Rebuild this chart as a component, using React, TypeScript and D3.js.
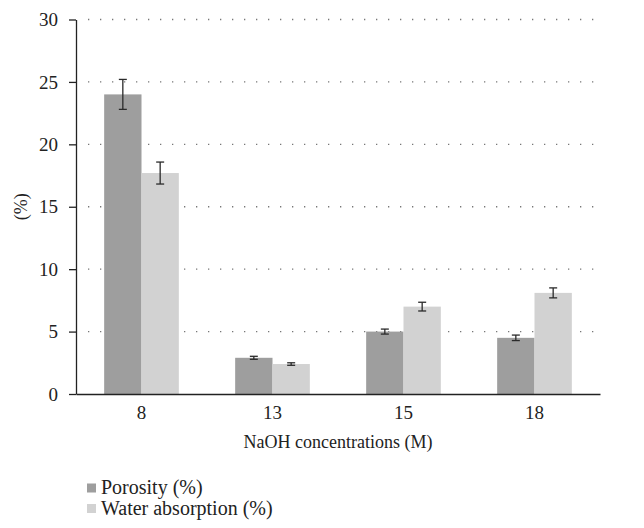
import React, { useRef, useEffect } from 'react';
import * as d3 from 'd3';

const categories = ['8', '13', '15', '18'];
const seriesNames = ['Porosity (%)', 'Water absorption (%)'];
const porosity = [24.0, 2.9, 5.0, 4.5];
const porosityErr = [1.2, 0.12, 0.2, 0.22];
const water = [17.7, 2.4, 7.0, 8.1];
const waterErr = [0.88, 0.1, 0.35, 0.4];
const yTicks = [0, 5, 10, 15, 20, 25, 30];
const colors = ['#9e9e9e', '#d2d2d2'];

export default function App() {
  const ref = useRef<SVGSVGElement>(null);

  useEffect(() => {
    const svg = d3.select(ref.current);
    svg.selectAll('*').remove();

    const width = 644;
    const marginLeft = 76;
    const marginRight = 44;
    const marginTop = 19.5;
    const axisY = 394;
    const font = 'Liberation Serif, Times New Roman, serif';

    const x = d3.scaleBand<string>()
      .domain(categories)
      .range([marginLeft, width - marginRight])
      .paddingInner(0.43)
      .paddingOuter(0.215);

    const xSub = d3.scaleBand<number>()
      .domain([0, 1])
      .range([0, x.bandwidth()]);

    const y = d3.scaleLinear().domain([0, 30]).range([axisY, marginTop]);

    // dotted gridlines
    svg.append('g')
      .selectAll('line')
      .data(yTicks.filter(d => d > 0))
      .join('line')
      .attr('x1', marginLeft + 12)
      .attr('x2', width - marginRight)
      .attr('y1', d => y(d))
      .attr('y2', d => y(d))
      .attr('stroke', '#777')
      .attr('stroke-width', 1.3)
      .attr('stroke-dasharray', '1.3 10.7');

    const series = [
      { vals: porosity, errs: porosityErr },
      { vals: water, errs: waterErr },
    ];

    series.forEach((s, si) => {
      svg.append('g')
        .selectAll('rect')
        .data(categories)
        .join('rect')
        .attr('x', (c) => (x(c) as number) + (xSub(si) as number))
        .attr('width', xSub.bandwidth())
        .attr('y', (_, i) => y(s.vals[i]))
        .attr('height', (_, i) => axisY - y(s.vals[i]))
        .attr('fill', colors[si]);

      // error bars
      const eb = svg.append('g')
        .attr('stroke', '#2a2a2a')
        .attr('stroke-width', 1.3);
      categories.forEach((c, i) => {
        const cx = (x(c) as number) + (xSub(si) as number) + xSub.bandwidth() / 2;
        const top = y(s.vals[i] + s.errs[i]);
        const bot = y(s.vals[i] - s.errs[i]);
        eb.append('line').attr('x1', cx).attr('x2', cx).attr('y1', top).attr('y2', bot);
        eb.append('line').attr('x1', cx - 4).attr('x2', cx + 4).attr('y1', top).attr('y2', top);
        eb.append('line').attr('x1', cx - 4).attr('x2', cx + 4).attr('y1', bot).attr('y2', bot);
      });
    });

    // y axis
    const yAxis = svg.append('g')
      .attr('transform', `translate(${marginLeft},0)`)
      .call(d3.axisLeft(y).tickValues(yTicks).tickSize(7).tickPadding(11).tickSizeOuter(0));
    yAxis.attr('font-family', null);
    yAxis.select('.domain').attr('stroke', '#222').attr('stroke-width', 1.3);
    yAxis.selectAll('.tick line').attr('stroke', '#222').attr('stroke-width', 1.3);
    yAxis.selectAll('.tick text')
      .style('font-family', font)
      .style('font-size', '19px')
      .attr('fill', '#222');

    // x axis
    const xAxis = svg.append('g')
      .attr('transform', `translate(0,${axisY})`)
      .call(d3.axisBottom(x).tickSize(0).tickPadding(12).tickSizeOuter(0));
    xAxis.attr('font-family', null);
    xAxis.select('.domain').attr('stroke', '#222').attr('stroke-width', 1.3);
    xAxis.selectAll('.tick text')
      .style('font-family', font)
      .style('font-size', '19px')
      .attr('fill', '#222');

    // axis titles
    svg.append('text')
      .attr('transform', `translate(27,${(axisY + marginTop) / 2}) rotate(-90)`)
      .attr('text-anchor', 'middle')
      .style('font-family', font)
      .style('font-size', '18px')
      .attr('fill', '#222')
      .text('(%)');

    svg.append('text')
      .attr('x', (marginLeft + width - marginRight) / 2)
      .attr('y', 448)
      .attr('text-anchor', 'middle')
      .style('font-family', font)
      .style('font-size', '18px')
      .attr('fill', '#222')
      .text('NaOH concentrations (M)');

    // legend
    const legend = svg.append('g');
    seriesNames.forEach((name, i) => {
      const ly = 488 + i * 20.5;
      legend.append('rect')
        .attr('x', 87).attr('y', ly - 4.5).attr('width', 9).attr('height', 9)
        .attr('fill', colors[i]);
      legend.append('text')
        .attr('x', 101).attr('y', ly + 6)
        .style('font-family', font)
        .style('font-size', '20px')
        .attr('fill', '#222')
        .text(name);
    });
  }, []);

  return <svg ref={ref} width={644} height={528} style={{ display: 'block', margin: '-8px' }} />;
}
